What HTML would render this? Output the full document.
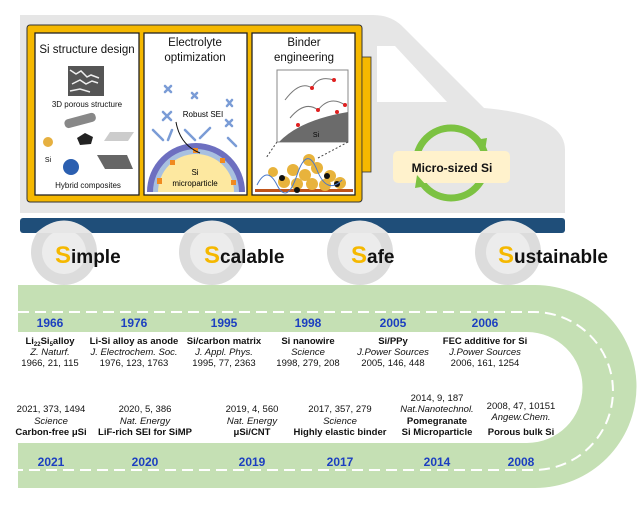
<!DOCTYPE html>
<html><head><meta charset="utf-8"><style>
body{margin:0;background:#fff;width:640px;height:508px;overflow:hidden;font-family:"Liberation Sans",sans-serif}
svg{position:absolute;left:0;top:0}
</style></head><body>
<svg width="640" height="508" viewBox="0 0 640 508" xmlns="http://www.w3.org/2000/svg" font-family="Liberation Sans, sans-serif">
<!-- truck body -->
<path d="M20 15 H373 Q392 15 404 28 L484 108 Q565 115 565 150 V213 H20 Z" fill="#e6e6e6"/>
<path d="M377 46 H395 L447 102 H377 Z" fill="#fff"/>
<!-- wheels -->
<g fill="#dcdcdc"><circle cx="64" cy="252" r="33"/><circle cx="212" cy="252" r="33"/><circle cx="360" cy="252" r="33"/><circle cx="508" cy="252" r="33"/></g>
<g fill="#ececec"><circle cx="64" cy="252" r="22"/><circle cx="212" cy="252" r="22"/><circle cx="360" cy="252" r="22"/><circle cx="508" cy="252" r="22"/></g>
<!-- chassis -->
<rect x="20" y="218" width="545" height="15" rx="3" fill="#1f4e79"/>
<g fill="#e6e6e6"><path d="M36 233 Q64 208 92 233Z"/><path d="M184 233 Q212 208 240 233Z"/><path d="M332 233 Q360 208 388 233Z"/><path d="M480 233 Q508 208 536 233Z"/></g>
<!-- yellow box -->
<rect x="27" y="25" width="335" height="177" rx="3" fill="#f5b800" stroke="#333" stroke-width="1"/>
<rect x="362" y="57" width="9" height="115" fill="#f5b800" stroke="#333" stroke-width="0.8"/>
<g fill="#fff" stroke="#222" stroke-width="1.3">
<rect x="35" y="33" width="104" height="162"/><rect x="144" y="33" width="103" height="162"/><rect x="252" y="33" width="103" height="162"/></g>
<g font-size="11.5" fill="#111" text-anchor="middle">
<text x="87" y="53">Si structure design</text>
<text x="195" y="46">Electrolyte</text><text x="195" y="61">optimization</text>
<text x="304" y="46">Binder</text><text x="304" y="61">engineering</text>
</g>
<!-- panel1 art -->
<rect x="68" y="66" width="36" height="30" fill="#555"/>
<path d="M70 70 l6 4 l5 -3 l6 6 l4 -2 l8 3 M72 84 l8 -4 l6 4 l6 -3 l6 2 M70 91 l10 -2 l10 3" stroke="#eee" stroke-width="1.5" fill="none"/>
<text x="87" y="107" font-size="8" text-anchor="middle" fill="#111">3D porous structure</text>
<rect x="64" y="116" width="32" height="9" rx="4" fill="#888" transform="rotate(-15 80 120)"/>
<path d="M77 138 l8 -5 l8 4 l-2 7 l-11 1z" fill="#222"/>
<path d="M110 132 h24 l-6 9 h-24z" fill="#ccc"/>
<circle cx="48" cy="142" r="5" fill="#e6b040"/>
<text x="48" y="162" font-size="7" text-anchor="middle">Si</text>
<circle cx="71" cy="167" r="8" fill="#2b5fb0"/>
<path d="M97 155 h30 l6 14 h-28z" fill="#666"/>
<text x="88" y="188" font-size="8" text-anchor="middle" fill="#111">Hybrid composites</text>
<!-- panel2 art -->
<path d="M147 192 A48 48 0 0 1 245 192 Z" fill="#6d6fc0"/>
<path d="M153 192 A42 42 0 0 1 239 192 Z" fill="#a8c0e0"/>
<path d="M158 192 A37 37 0 0 1 234 192 Z" fill="#fde8a0"/>
<g fill="#f08a20"><rect x="157" y="178" width="5" height="6"/><rect x="170" y="160" width="5" height="5"/><rect x="193" y="148" width="5" height="5"/><rect x="220" y="158" width="5" height="5"/><rect x="231" y="180" width="5" height="5"/></g>
<text x="195" y="175" font-size="8" text-anchor="middle">Si</text>
<text x="195" y="186" font-size="8" text-anchor="middle">microparticle</text>
<text x="203" y="117" font-size="8" text-anchor="middle">Robust SEI</text>
<path d="M176 122 Q180 145 200 153" stroke="#111" fill="none" stroke-width="1"/>
<g stroke="#7a9cd6" stroke-width="2.5" stroke-linecap="round">
<path d="M165 86 l6 6 M171 86 l-6 6 M192 93 l5 5 M197 93 l-5 5 M227 100 l5 6 M232 100 l-5 6 M163 112 l8 8 M171 112 l-8 8 M226 120 l6 6 M232 120 l-6 6 M153 130 l10 10 M172 130 l-4 10 M185 130 l10 10 M210 128 l-10 10 M228 138 l8 8"/></g>
<!-- panel3 art -->
<rect x="277" y="70" width="71" height="72" fill="#fff" stroke="#888"/>
<path d="M279 142 Q300 120 348 112 V142Z" fill="#6b6b6b"/>
<path d="M285 100 Q300 80 312 88 Q318 75 334 80 M290 118 Q305 100 318 110 Q330 95 345 105" stroke="#777" fill="none"/>
<g fill="#e02020"><circle cx="312" cy="88" r="2"/><circle cx="334" cy="80" r="2"/><circle cx="318" cy="110" r="2"/><circle cx="345" cy="105" r="2"/><circle cx="298" cy="125" r="2"/><circle cx="337" cy="112" r="2"/></g>
<text x="316" y="137" font-size="7" text-anchor="middle">Si</text>
<path d="M277 142 L266 158 M348 142 L318 158" stroke="#444" stroke-dasharray="2 2"/>
<rect x="255" y="189" width="98" height="3" fill="#c0541a"/>
<g fill="#e8b33c"><circle cx="293" cy="170" r="6"/><circle cx="305" cy="175" r="6"/><circle cx="317" cy="168" r="6"/><circle cx="330" cy="176" r="6"/><circle cx="284" cy="182" r="6"/><circle cx="297" cy="184" r="6"/><circle cx="312" cy="184" r="6"/><circle cx="325" cy="185" r="6"/><circle cx="340" cy="183" r="6"/><circle cx="309" cy="160" r="6"/><circle cx="273" cy="172" r="5"/></g>
<g fill="#111"><circle cx="282" cy="178" r="3"/><circle cx="297" cy="190" r="3"/><circle cx="327" cy="176" r="3"/><circle cx="337" cy="184" r="3"/></g>
<path d="M257 185 Q267 165 277 185 T297 175 T317 170 T342 180" stroke="#4a78c8" fill="none" stroke-width="1"/>
<!-- micro sized Si -->
<circle cx="451" cy="163" r="35" fill="none" stroke="#7cc242" stroke-width="7"/>
<rect x="393" y="151" width="117" height="32" rx="5" fill="#fff2cc"/>
<path d="M475 140 l12 -2 l-2 13z M427 186 l-12 2 l2 -13z" fill="#7cc242"/>
<text x="452" y="172" font-size="12" font-weight="bold" text-anchor="middle" fill="#111">Micro-sized Si</text>
<!-- labels -->
<g font-weight="bold" font-size="19" fill="#111">
<text x="55" y="263"><tspan fill="#f5b800" font-size="24">S</tspan>imple</text>
<text x="204" y="263"><tspan fill="#f5b800" font-size="24">S</tspan>calable</text>
<text x="351" y="263"><tspan fill="#f5b800" font-size="24">S</tspan>afe</text>
<text x="498" y="263"><tspan fill="#f5b800" font-size="24">S</tspan>ustainable</text>
</g>
<!-- road -->
<path d="M18 285 H535 A101.5 101.5 0 0 1 535 488 H18 V443 H527 A55.5 55.5 0 0 0 527 332 H18 Z" fill="#c5e0b4"/>
<path d="M18 312 H534 A79 79 0 0 1 534 470 H18" fill="none" stroke="#fff" stroke-width="2" stroke-dasharray="11 6"/>
<g font-size="12" font-weight="bold" fill="#1c3fc0" text-anchor="middle">
<text x="50" y="327">1966</text><text x="134" y="327">1976</text><text x="224" y="327">1995</text><text x="308" y="327">1998</text><text x="393" y="327">2005</text><text x="485" y="327">2006</text>
<text x="51" y="466">2021</text><text x="145" y="466">2020</text><text x="252" y="466">2019</text><text x="340" y="466">2017</text><text x="437" y="466">2014</text><text x="521" y="466">2008</text>
</g>
<g font-size="9.5" fill="#111" text-anchor="middle">
<g font-weight="bold"><text x="50" y="344">Li<tspan font-size="6" dy="2">22</tspan><tspan dy="-2">Si</tspan><tspan font-size="6" dy="2">5</tspan><tspan dy="-2">alloy</tspan></text>
<text x="134" y="344">Li-Si alloy as anode</text><text x="224" y="344">Si/carbon matrix</text><text x="308" y="344">Si nanowire</text><text x="393" y="344">Si/PPy</text><text x="485" y="344">FEC additive for Si</text></g>
<g font-style="italic"><text x="50" y="355">Z. Naturf.</text><text x="134" y="355">J. Electrochem. Soc.</text><text x="224" y="355">J. Appl. Phys.</text><text x="308" y="355">Science</text><text x="393" y="355">J.Power Sources</text><text x="485" y="355">J.Power Sources</text></g>
<text x="50" y="366">1966, 21, 115</text><text x="134" y="366">1976, 123, 1763</text><text x="224" y="366">1995, 77, 2363</text><text x="308" y="366">1998, 279, 208</text><text x="393" y="366">2005, 146, 448</text><text x="485" y="366">2006, 161, 1254</text>
<text x="51" y="412">2021, 373, 1494</text><text x="145" y="412">2020, 5, 386</text><text x="252" y="412">2019, 4, 560</text><text x="340" y="412">2017, 357, 279</text><text x="437" y="401">2014, 9, 187</text><text x="521" y="409">2008, 47, 10151</text>
<g font-style="italic"><text x="51" y="424">Science</text><text x="145" y="424">Nat. Energy</text><text x="252" y="424">Nat. Energy</text><text x="340" y="424">Science</text><text x="437" y="412">Nat.Nanotechnol.</text><text x="521" y="420">Angew.Chem.</text></g>
<g font-weight="bold"><text x="51" y="435">Carbon-free μSi</text><text x="145" y="435">LiF-rich SEI for SiMP</text><text x="252" y="435">μSi/CNT</text><text x="340" y="435">Highly elastic binder</text><text x="437" y="424">Pomegranate</text><text x="437" y="435">Si Microparticle</text><text x="521" y="435">Porous bulk Si</text></g>
</g>
</svg>
</body></html>
